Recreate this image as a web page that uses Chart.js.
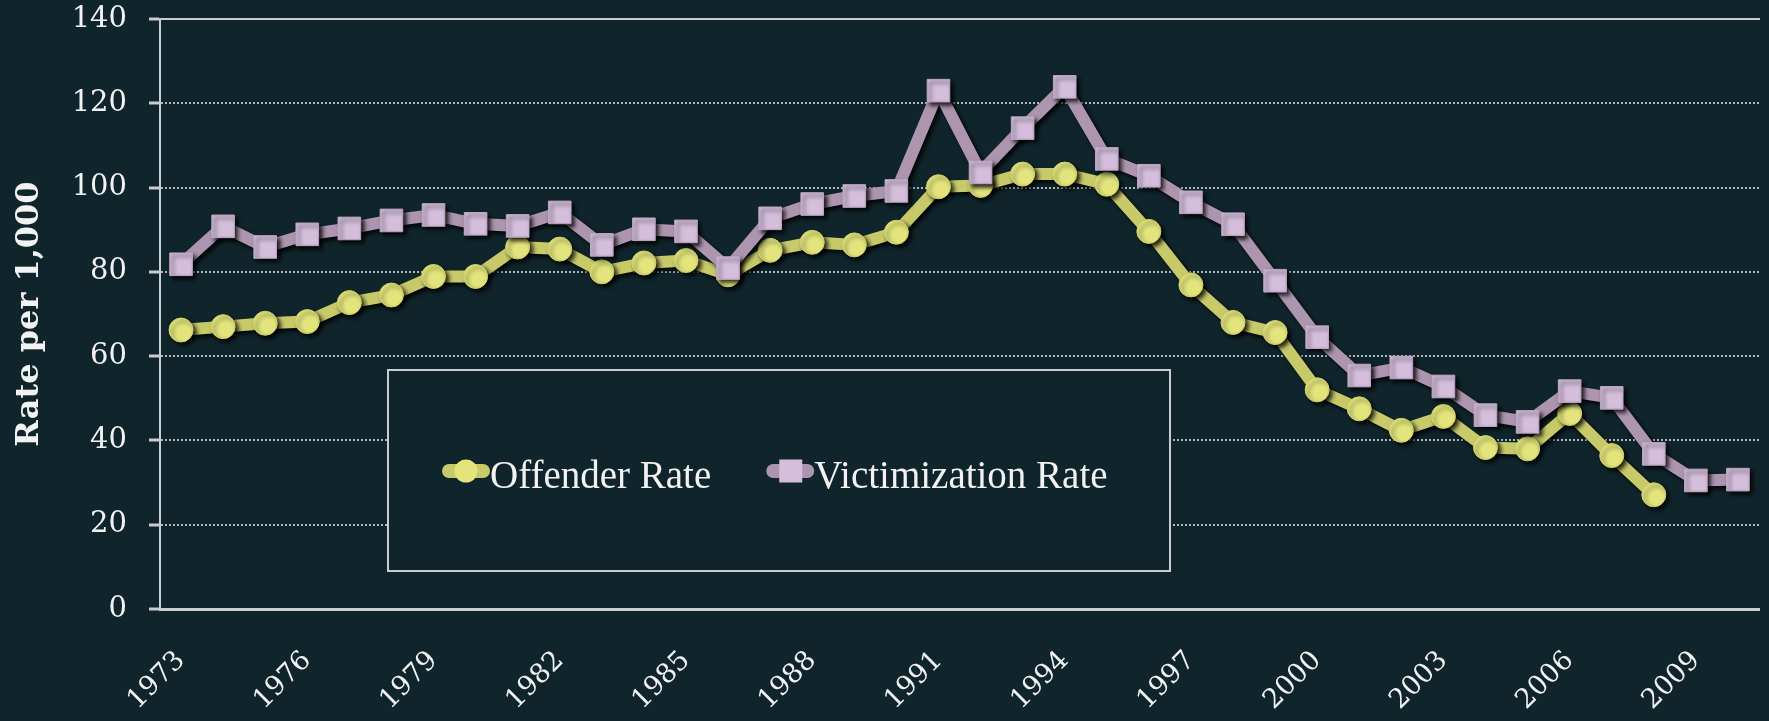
<!DOCTYPE html>
<html>
<head>
<meta charset="utf-8">
<script src="https://cdn.jsdelivr.net/npm/chart.js@4/dist/chart.umd.min.js"></script>
<style>
  html, body { margin: 0; padding: 0; background: #10252b; overflow: hidden; }
  #wrap { position: relative; width: 1776px; height: 721px; }
</style>
</head>
<body>
<div id="wrap"><canvas id="rateChart"></canvas></div>
<script>
const years = ['1973','1974','1975','1976','1977','1978','1979','1980','1981','1982',
  '1983','1984','1985','1986','1987','1988','1989','1990','1991','1992',
  '1993','1994','1995','1996','1997','1998','1999','2000','2001','2002',
  '2003','2004','2005','2006','2007','2008','2009','2010'];

const offenderRate = [66.2, 67.0, 67.8, 68.2, 72.7, 74.5, 78.9, 78.9, 85.9, 85.4,
  80.0, 82.1, 82.7, 79.3, 85.1, 87.0, 86.4, 89.4, 100.2, 100.5,
  103.2, 103.2, 100.8, 89.6, 76.9, 68.0, 65.6, 52.0, 47.5, 42.4,
  45.7, 38.3, 38.0, 46.4, 36.4, 27.1, null, null];

const victimizationRate = [81.8, 90.8, 85.9, 88.9, 90.3, 92.2, 93.5, 91.4, 90.9, 94.1,
  86.4, 90.1, 89.6, 80.9, 92.7, 96.1, 98.0, 99.2, 123.0, 103.6,
  114.1, 123.9, 106.8, 102.8, 96.5, 91.3, 77.9, 64.5, 55.4, 57.3,
  52.8, 46.0, 44.4, 51.7, 50.1, 36.8, 30.5, 30.7];

const seriesNames = ['Offender Rate', 'Victimization Rate'];

const bgColor = '#10252b';
const axisColor = '#c8cdd0';
const textColor = '#f2f2f2';

// drop shadow under lines and markers
const shadowPlugin = {
  id: 'shadow',
  beforeDatasetsDraw(chart) {
    const ctx = chart.ctx;
    ctx.save();
    ctx.shadowColor = 'rgba(0,0,0,0.85)';
    ctx.shadowBlur = 4;
    ctx.shadowOffsetX = 3;
    ctx.shadowOffsetY = 3;
  },
  afterDatasetsDraw(chart) {
    chart.ctx.restore();
  }
};

// boxed legend floating inside the plot
const boxLegend = {
  id: 'boxLegend',
  afterDraw(chart) {
    const ctx = chart.ctx;
    ctx.save();
    ctx.fillStyle = bgColor;
    ctx.fillRect(388, 370, 782, 201);
    ctx.strokeStyle = axisColor;
    ctx.lineWidth = 2;
    ctx.strokeRect(388, 370, 782, 201);

    ctx.font = '39px "Liberation Serif"';
    ctx.textBaseline = 'alphabetic';
    let x = 442;
    const y = 471;
    seriesNames.forEach(name => {
      const ds = chart.data.datasets.find(d => d.label === name);
      ctx.strokeStyle = ds.borderColor;
      ctx.lineWidth = 14;
      ctx.lineCap = 'round';
      ctx.beginPath();
      ctx.moveTo(x + 7, y);
      ctx.lineTo(x + 41, y);
      ctx.stroke();
      ctx.fillStyle = ds.pointBackgroundColor;
      if (ds.pointStyle === 'rect') {
        ctx.fillRect(x + 13, y - 11.5, 23, 23);
      } else {
        ctx.beginPath();
        ctx.arc(x + 24, y, 11.5, 0, Math.PI * 2);
        ctx.fill();
      }
      ctx.fillStyle = textColor;
      ctx.fillText(ds.label, x + 48, 488);
      x += 48 + ctx.measureText(ds.label).width + 55;
    });
    ctx.restore();
  }
};

const ctx = document.getElementById('rateChart').getContext('2d');

new Chart(ctx, {
  type: 'line',
  data: {
    labels: years,
    datasets: [
      {
        label: seriesNames[0],
        data: offenderRate,
        order: 1,
        borderColor: '#c8ca6a',
        borderWidth: 12,
        borderJoinStyle: 'round',
        pointStyle: 'circle',
        pointRadius: 12,
        pointBackgroundColor: '#e3e57c',
        pointBorderColor: '#d0d266',
        pointBorderWidth: 1,
        tension: 0
      },
      {
        label: seriesNames[1],
        data: victimizationRate,
        order: 0,
        borderColor: '#ad95af',
        borderWidth: 12,
        borderJoinStyle: 'round',
        pointStyle: 'rect',
        pointRadius: 16,
        pointBackgroundColor: '#d4bedc',
        pointBorderColor: '#bfa6c4',
        pointBorderWidth: 1,
        tension: 0
      }
    ]
  },
  options: {
    responsive: true,
    maintainAspectRatio: false,
    animation: false,
    layout: { padding: 0 },
    plugins: {
      legend: { display: false },
      tooltip: { enabled: false }
    },
    scales: {
      x: {
        offset: true,
        grid: { display: false, drawTicks: false },
        border: { display: true, color: axisColor, width: 3 },
        ticks: {
          autoSkip: false,
          minRotation: 45,
          maxRotation: 45,
          padding: 36,
          color: textColor,
          font: { family: 'DejaVu Serif', size: 27 },
          callback: function (value, index) {
            return index % 3 === 0 ? this.getLabelForValue(value) : null;
          }
        },
        afterFit(scale) { scale.height = 112; }
      },
      xTop: {
        type: 'category',
        position: 'top',
        offset: true,
        grid: { display: false, drawTicks: false },
        border: { display: true, color: axisColor, width: 2 },
        ticks: { display: false },
        afterFit(scale) { scale.height = 0; }
      },
      y: {
        min: 0,
        max: 140,
        ticks: {
          stepSize: 20,
          padding: 22,
          color: textColor,
          font: { family: 'DejaVu Serif', size: 29 }
        },
        grid: {
          color: 'rgba(205,212,216,0.85)',
          lineWidth: 2,
          tickLength: 11,
          tickColor: axisColor,
          tickWidth: 3
        },
        border: { display: true, color: axisColor, width: 2, dash: [2, 2] },
        title: {
          display: true,
          text: 'Rate per 1,000',
          color: textColor,
          font: { family: 'DejaVu Serif', size: 32, weight: 'bold' },
          padding: { top: 10, bottom: 0 }
        },
        afterFit(scale) {
          scale.width = 160;
          scale.paddingTop = 19;
          scale.paddingBottom = 0;
        }
      }
    }
  },
  plugins: [boxLegend, shadowPlugin]
});
</script>
</body>
</html>
